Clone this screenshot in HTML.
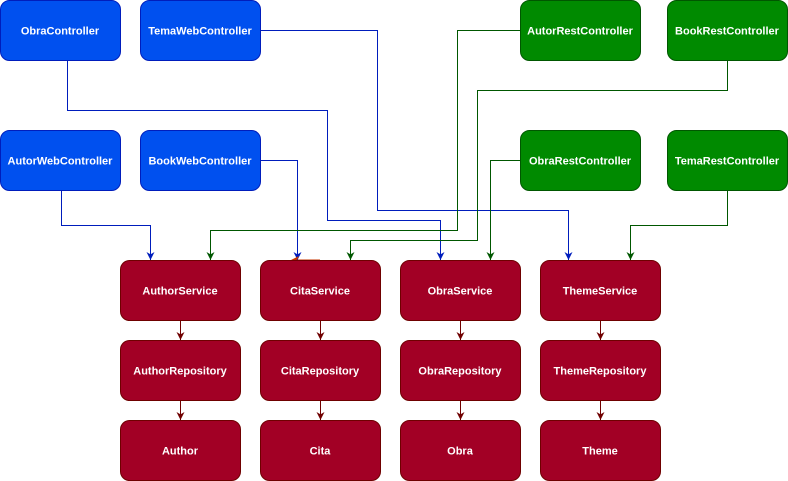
<!DOCTYPE html>
<html><head><meta charset="utf-8"><style>
html,body{margin:0;padding:0;background:#fff;}
svg{display:block;}
text{font-family:"Liberation Sans",Arial,sans-serif;font-size:11px;font-weight:bold;fill:#fff;text-anchor:middle;}
</style></head><body>
<svg width="788" height="481" viewBox="0 0 788 481" xmlns="http://www.w3.org/2000/svg">
<defs>
<marker id="ab" viewBox="0 0 10 10" refX="10" refY="5" markerWidth="8" markerHeight="8" orient="auto" markerUnits="userSpaceOnUse"><path d="M0,0L10,5L0,10L3,5z" fill="#001DBC"/></marker>
<marker id="ag" viewBox="0 0 10 10" refX="10" refY="5" markerWidth="8" markerHeight="8" orient="auto" markerUnits="userSpaceOnUse"><path d="M0,0L10,5L0,10L3,5z" fill="#005700"/></marker>
<marker id="ar" viewBox="0 0 10 10" refX="10" refY="5" markerWidth="8" markerHeight="8" orient="auto" markerUnits="userSpaceOnUse"><path d="M0,0L10,5L0,10L3,5z" fill="#6F0000"/></marker>
</defs>
<style>
.b{fill:#0050EF;stroke:#001DBC;}
.g{fill:#008A00;stroke:#005700;}
.r{fill:#A20025;stroke:#6F0000;}
.lb{fill:none;stroke:#001DBC;stroke-width:1;}
.lg{fill:none;stroke:#005700;stroke-width:1;}
.lr{fill:none;stroke:#6F0000;stroke-width:1;}
</style>
<g>
<path class="lb" d="M67.5,60V110.5H327.5V220.5H440.5V260" marker-end="url(#ab)"/>
<path class="lb" d="M260,30.5H377.5V210.5H568.5V260" marker-end="url(#ab)"/>
<path class="lb" d="M61.5,190V225.5H150.5V260" marker-end="url(#ab)"/>
<path class="lb" d="M260,160.5H297.5V260" marker-end="url(#ab)"/>
<path class="lg" d="M520,30.5H457.5V230.5H210.5V260" marker-end="url(#ag)"/>
<path class="lg" d="M727.5,60V90.5H477.5V240.5H350.5V260" marker-end="url(#ag)"/>
<path class="lg" d="M520,160.5H490.5V260" marker-end="url(#ag)"/>
<path class="lg" d="M727.5,190V225.5H630.5V260" marker-end="url(#ag)"/>
<path d="M320,260H298" stroke="#C73500" stroke-width="1" fill="none"/>
<path d="M291,260L299,256L297,260L299,264z" fill="#C73500"/>
<path class="lr" d="M180.5,320V340" marker-end="url(#ar)"/>
<path class="lr" d="M180.5,400V420" marker-end="url(#ar)"/>
<path class="lr" d="M320.5,320V340" marker-end="url(#ar)"/>
<path class="lr" d="M320.5,400V420" marker-end="url(#ar)"/>
<path class="lr" d="M460.5,320V340" marker-end="url(#ar)"/>
<path class="lr" d="M460.5,400V420" marker-end="url(#ar)"/>
<path class="lr" d="M600.5,320V340" marker-end="url(#ar)"/>
<path class="lr" d="M600.5,400V420" marker-end="url(#ar)"/>
</g>
<rect class="b" x="0.5" y="0.5" width="120" height="60" rx="9"/><text x="60" y="34.5">ObraController</text>
<rect class="b" x="140.5" y="0.5" width="120" height="60" rx="9"/><text x="200" y="34.5">TemaWebController</text>
<rect class="g" x="520.5" y="0.5" width="120" height="60" rx="9"/><text x="580" y="34.5">AutorRestController</text>
<rect class="g" x="667.5" y="0.5" width="120" height="60" rx="9"/><text x="727" y="34.5">BookRestController</text>
<rect class="b" x="0.5" y="130.5" width="120" height="60" rx="9"/><text x="60" y="164.5">AutorWebController</text>
<rect class="b" x="140.5" y="130.5" width="120" height="60" rx="9"/><text x="200" y="164.5">BookWebController</text>
<rect class="g" x="520.5" y="130.5" width="120" height="60" rx="9"/><text x="580" y="164.5">ObraRestController</text>
<rect class="g" x="667.5" y="130.5" width="120" height="60" rx="9"/><text x="727" y="164.5">TemaRestController</text>

<rect class="r" x="120.5" y="260.5" width="120" height="60" rx="9"/><text x="180" y="294.5">AuthorService</text>
<rect class="r" x="260.5" y="260.5" width="120" height="60" rx="9"/><text x="320" y="294.5">CitaService</text>
<rect class="r" x="400.5" y="260.5" width="120" height="60" rx="9"/><text x="460" y="294.5">ObraService</text>
<rect class="r" x="540.5" y="260.5" width="120" height="60" rx="9"/><text x="600" y="294.5">ThemeService</text>

<rect class="r" x="120.5" y="340.5" width="120" height="60" rx="9"/><text x="180" y="374.5">AuthorRepository</text>
<rect class="r" x="260.5" y="340.5" width="120" height="60" rx="9"/><text x="320" y="374.5">CitaRepository</text>
<rect class="r" x="400.5" y="340.5" width="120" height="60" rx="9"/><text x="460" y="374.5">ObraRepository</text>
<rect class="r" x="540.5" y="340.5" width="120" height="60" rx="9"/><text x="600" y="374.5">ThemeRepository</text>

<rect class="r" x="120.5" y="420.5" width="120" height="60" rx="9"/><text x="180" y="454.5">Author</text>
<rect class="r" x="260.5" y="420.5" width="120" height="60" rx="9"/><text x="320" y="454.5">Cita</text>
<rect class="r" x="400.5" y="420.5" width="120" height="60" rx="9"/><text x="460" y="454.5">Obra</text>
<rect class="r" x="540.5" y="420.5" width="120" height="60" rx="9"/><text x="600" y="454.5">Theme</text>
</svg>
</body></html>
